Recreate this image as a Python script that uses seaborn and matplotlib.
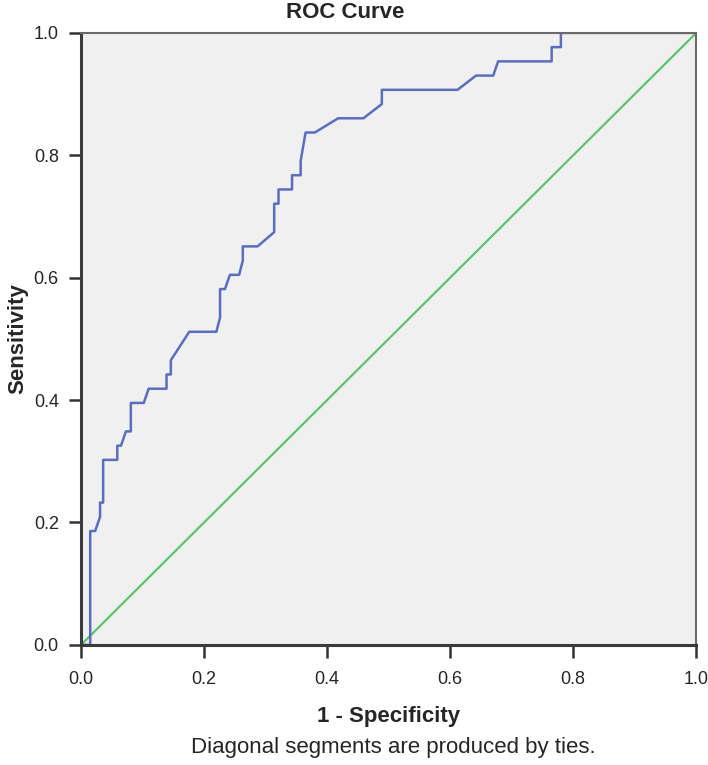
import numpy as np
import pandas as pd
import matplotlib
matplotlib.use("Agg")
import matplotlib.pyplot as plt
import seaborn as sns

# ROC curve points (1 - specificity, sensitivity)
fpr = [0.0, 0.015, 0.015, 0.023, 0.031, 0.031, 0.036, 0.036, 0.059, 0.059,
       0.065, 0.073, 0.081, 0.081, 0.102, 0.110, 0.139, 0.139, 0.146, 0.146,
       0.176, 0.220, 0.226, 0.226, 0.234, 0.242, 0.257, 0.263, 0.263, 0.287,
       0.314, 0.314, 0.321, 0.321, 0.343, 0.343, 0.357, 0.357, 0.365, 0.380,
       0.418, 0.459, 0.489, 0.489, 0.612, 0.642, 0.670, 0.678, 0.765, 0.765,
       0.780, 0.780, 1.0]
tp_count = [0, 0, 8, 8, 9, 10, 10, 13, 13, 14,
            14, 15, 15, 17, 17, 18, 18, 19, 19, 20,
            22, 22, 23, 25, 25, 26, 26, 27, 28, 28,
            29, 31, 31, 32, 32, 33, 33, 34, 36, 36,
            37, 37, 38, 39, 39, 40, 40, 41, 41, 42,
            42, 43, 43]
n_pos = 43
sens = [c / n_pos for c in tp_count]

ref_x = [0.0, 1.0]
ref_y = [0.0, 1.0]

roc_df = pd.DataFrame({"fpr": fpr, "sens": sens})
ref_df = pd.DataFrame({"x": ref_x, "y": ref_y})

sns.set_style("ticks")
plt.rcParams["font.family"] = ["Liberation Sans", "DejaVu Sans"]

fig = plt.figure(figsize=(7.08, 7.65), dpi=100)
ax = fig.add_axes([0.1144, 0.157, 0.869, 0.800])
ax.set_facecolor("#f0f0f0")

sns.lineplot(data=ref_df, x="x", y="y", ax=ax, color="#5cc46e", lw=1.6,
             sort=False, estimator=None)
sns.lineplot(data=roc_df, x="fpr", y="sens", ax=ax, color="#5a6ebe", lw=1.8,
             sort=False, estimator=None)

ax.set_xlim(0, 1)
ax.set_ylim(0, 1)
ticks = [0.0, 0.2, 0.4, 0.6, 0.8, 1.0]
ax.set_xticks(ticks)
ax.set_yticks(ticks)
ax.set_xticklabels([f"{t:.1f}" for t in ticks], fontsize=13)
ax.set_yticklabels([f"{t:.1f}" for t in ticks], fontsize=13)
ax.tick_params(direction="out", length=9, width=1.8, color="#333333", pad=7)
ax.tick_params(axis="x", pad=10)

for side in ["left", "bottom"]:
    ax.spines[side].set_linewidth(2.2)
    ax.spines[side].set_color("#3a3a3a")
for side in ["top", "right"]:
    ax.spines[side].set_visible(True)
    ax.spines[side].set_linewidth(1.5)
    ax.spines[side].set_color("#6a6a6a")

ax.set_xlabel("1 - Specificity", fontsize=16, fontweight="bold", labelpad=13)
ax.set_ylabel("Sensitivity", fontsize=16, fontweight="bold", labelpad=4)

fig.text(0.488, 0.984, "ROC Curve", ha="center", va="center", fontsize=16, fontweight="bold")
fig.text(0.556, 0.0235, "Diagonal segments are produced by ties.", ha="center", va="center", fontsize=16)

fig.savefig("out.png", dpi=100)
